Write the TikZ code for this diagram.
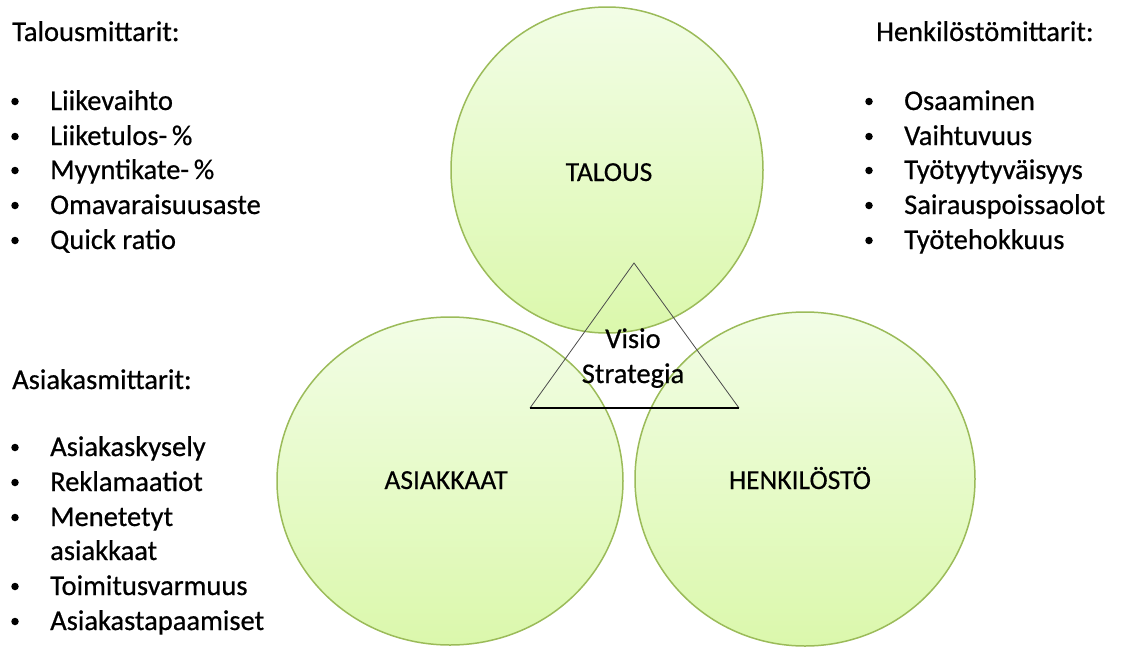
\documentclass[tikz,border=0pt]{standalone}
\usepackage{fontspec}
\setmainfont{Carlito}
\newfontfamily\mildbold{Carlito}[FakeBold=0.6]
\newfontfamily\lightbold{Carlito}[FakeBold=0.3]
\definecolor{ringline}{HTML}{9BBB59}
\definecolor{filltop}{HTML}{F2FDE6}
\definecolor{fillbot}{HTML}{DBF8AC}
\tikzset{
  bubble/.style={draw=ringline, line width=1.5pt, top color=filltop, bottom color=fillbot},
  txt/.style={anchor=base west, inner sep=0pt, font=\mildbold\fontsize{28.5}{34}\selectfont},
  lbl/.style={anchor=base, inner sep=0pt, font=\lightbold\fontsize{27.5}{33}\selectfont},
  bul/.style={circle, fill=black, minimum size=7.5pt, inner sep=0pt},
}
\newcommand{\bitem}[4]{%
  \node[bul] (b#4) at (#1-35,#2-8.5) {};
  \node[txt] (t#4) at (#1,#2) {#3};}
\begin{document}
\begin{tikzpicture}[x=1pt,y=-1pt]
\useasboundingbox (0,0) rectangle (1125,646);
% circles
\draw[bubble] (607,170) ellipse [x radius=156, y radius=163];
\draw[bubble] (450,481) ellipse [x radius=173, y radius=164];
\draw[bubble] (805,479) ellipse [x radius=170, y radius=167];
\node[lbl] (talous) at (609,181) {TALOUS};
\node[lbl] (asiakkaat) at (446,489) {ASIAKKAAT};
\node[lbl] (henkilosto) at (800,489) {HENKILÖSTÖ};
% triangle
\coordinate (apex) at (634,263);
\coordinate (bl) at (530,408);
\coordinate (br) at (739,408);
\draw[black!70, line width=0.8pt] (bl) -- (apex) -- (br);
\draw[black, line width=1.1pt] (bl) -- (br);
\node[txt, anchor=base] (visio) at (633,348) {Visio};
\node[txt, anchor=base] (strategia) at (633,383) {Strategia};
% left top list
\node[txt] (tm) at (12,41) {Talousmittarit:};
\bitem{50}{110}{Liikevaihto}{l1}
\bitem{50}{145}{Liiketulos-\,\%}{l2}
\bitem{50}{179}{Myyntikate-\,\%}{l3}
\bitem{50}{214}{Omavaraisuusaste}{l4}
\bitem{50}{249}{Quick ratio}{l5}
% right list
\node[txt] (hm) at (876,41) {Henkilöstömittarit:};
\bitem{904}{110}{Osaaminen}{r1}
\bitem{904}{145}{Vaihtuvuus}{r2}
\bitem{904}{179}{Työtyytyväisyys}{r3}
\bitem{904}{214}{Sairauspoissaolot}{r4}
\bitem{904}{249}{Työtehokkuus}{r5}
% left bottom list
\node[txt] (am) at (12,389) {Asiakasmittarit:};
\bitem{50}{456}{Asiakaskysely}{a1}
\bitem{50}{491}{Reklamaatiot}{a2}
\bitem{50}{526}{Menetetyt}{a3}
\node[txt] (tas) at (50,560) {asiakkaat};
\bitem{50}{595}{Toimitusvarmuus}{a4}
\bitem{50}{630}{Asiakastapaamiset}{a5}
\end{tikzpicture}
\end{document}
